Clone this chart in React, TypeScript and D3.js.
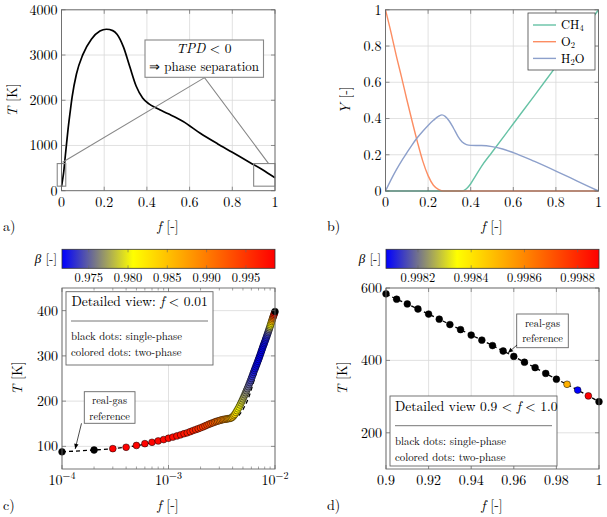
import React from 'react';
import * as d3 from 'd3';

const FONT = "'Latin Modern Roman', 'Liberation Serif', serif";

// a) temperature over mixture fraction
const aF = [0, 0.005, 0.01, 0.016, 0.02, 0.03, 0.04, 0.05, 0.07, 0.1, 0.14, 0.18, 0.21, 0.24, 0.26, 0.29, 0.32, 0.35, 0.38, 0.41, 0.43, 0.46, 0.5, 0.57, 0.65, 0.73, 0.8, 0.88, 0.94, 1.0];
const aT = [88, 240, 398, 684, 870, 1330, 1720, 2080, 2580, 3010, 3350, 3530, 3570, 3540, 3460, 3180, 2740, 2310, 2050, 1920, 1860, 1790, 1700, 1530, 1270, 1040, 850, 630, 470, 285];

// b) mass fractions
const o2F = [0, 0.025, 0.05, 0.075, 0.1, 0.125, 0.15, 0.175, 0.2, 0.225, 0.25, 0.275, 0.3, 1.0];
const o2Y = [1, 0.88, 0.75, 0.63, 0.505, 0.385, 0.27, 0.165, 0.085, 0.032, 0.008, 0.0, 0, 0];
const h2oF = [0, 0.025, 0.05, 0.075, 0.1, 0.125, 0.15, 0.175, 0.2, 0.225, 0.25, 0.265, 0.28, 0.3, 0.32, 0.34, 0.36, 0.38, 0.4, 0.45, 0.5, 0.55, 0.6, 0.7, 0.8, 0.9, 1.0];
const h2oY = [0, 0.06, 0.115, 0.165, 0.21, 0.255, 0.295, 0.33, 0.362, 0.39, 0.413, 0.42, 0.412, 0.385, 0.345, 0.302, 0.27, 0.256, 0.252, 0.251, 0.245, 0.232, 0.212, 0.163, 0.11, 0.055, 0];
const ch4F = [0, 0.36, 0.38, 0.4, 0.42, 0.45, 0.5, 0.6, 0.7, 0.8, 0.9, 1.0];
const ch4Y = [0, 0, 0.012, 0.04, 0.078, 0.135, 0.214, 0.371, 0.528, 0.686, 0.843, 1.0];
const species = ['CH4', 'O2', 'H2O'];
const speciesColors = ['#66c2a5', '#fc8d62', '#8da0cb'];

// c) detailed view f < 0.01, sample grid f = k * 1e-4
const cK = d3.range(1, 101);
const cT = [
  88, 92, 95, 98, 102, 106, 109, 112, 115, 118,
  120.5, 123, 125.5, 128, 130, 132.5, 135, 137, 139, 141,
  143, 145, 147, 149, 150.5, 152, 153.5, 155, 156, 157,
  158, 159, 159.5, 160, 160.5, 161, 161.5, 162, 163, 165,
  168, 171, 175, 179, 183, 187, 191.5, 196, 200.5, 205,
  209.5, 214, 218.5, 223, 227.5, 232, 236.5, 241, 245.5, 250,
  254.5, 259, 263.5, 268, 272, 276, 280, 284, 288, 292,
  296, 300, 304, 308, 312, 316, 320, 323.5, 327, 330.5,
  334, 337.5, 341, 344.5, 348, 351.5, 355, 358.5, 362, 365.5,
  369, 372.5, 376, 379.5, 383, 386, 389, 392, 395, 398,
];
const cBeta: (number | null)[] = [
  null, null, 0.9986, 0.9986, 0.9985, 0.9985, 0.9984, 0.9983, 0.9982, 0.9981,
  0.9979, 0.9977, 0.9975, 0.9972, 0.9969, 0.9966, 0.9963, 0.996, 0.9956, 0.9952,
  0.9948, 0.9944, 0.994, 0.9935, 0.993, 0.9925, 0.992, 0.9914, 0.9908, 0.9902,
  0.9898, 0.9894, 0.989, 0.9886, 0.9881, 0.9876, 0.987, 0.9864, 0.9857, 0.985,
  0.9842, 0.9834, 0.9826, 0.9818, 0.981, 0.9803, 0.9797, 0.9791, 0.9786, 0.9781,
  0.9776, 0.9771, 0.9767, 0.9763, 0.9759, 0.9755, 0.9751, 0.9747, 0.9743, 0.9739,
  0.9735, 0.9731, 0.9728, 0.9725, 0.9723, 0.9721, 0.972, 0.9719, 0.9718, 0.9718,
  0.9717, 0.9717, 0.9717, 0.9717, 0.9717, 0.9718, 0.9718, 0.9719, 0.972, 0.9721,
  0.9723, 0.9725, 0.9728, 0.9732, 0.9737, 0.9743, 0.975, 0.976, 0.9772, 0.9786,
  0.9802, 0.982, 0.984, 0.9862, 0.9886, 0.991, 0.9935, 0.9958, 0.9978, null,
];
const cRefK = [1, 2, 3, 5, 7, 10, 15, 20, 25, 30, 35, 40, 45, 47, 50, 52, 55, 58, 62, 67, 71, 75, 80, 86, 90, 95, 100];
const cRefT = [88, 92, 95, 101.5, 108.5, 117.5, 130, 141, 150, 156, 159.5, 161.5, 166, 172, 181, 189, 201, 215, 237, 263, 281, 299, 320, 345, 362, 381, 398];
const cBetaDomain = [0.9716, 0.9987];
const cBetaTicks = [0.975, 0.98, 0.985, 0.99, 0.995];

// d) detailed view 0.9 < f < 1.0
const dF = [0.9, 0.905, 0.91, 0.915, 0.92, 0.925, 0.93, 0.935, 0.94, 0.945, 0.95, 0.955, 0.96, 0.965, 0.97, 0.975, 0.98, 0.985, 0.99, 0.995, 1.0];
const dT = [584, 569, 556, 542, 528, 514, 499, 485, 470, 456, 441, 426, 411, 395, 380, 364, 348, 334, 318, 302, 286];
const dBeta: (number | null)[] = [null, null, null, null, null, null, null, null, null, null, null, null, null, null, null, null, null, 0.99851, 0.99808, 0.99888, null];
const dBetaDomain = [0.99808, 0.99888];
const dBetaTicks = [0.9982, 0.9984, 0.9986, 0.9988];

const CMAP = ['#0000ff', '#ffff00', '#ff8000', '#ff0000'];
const FRAME = '#666';
const GRID = '#d9d9d9';

const betaScale = (dom: number[]) =>
  d3.scaleLinear<string>()
    .domain([0, 1 / 3, 2 / 3, 1].map((t) => dom[0] + t * (dom[1] - dom[0])))
    .range(CMAP)
    .interpolate(d3.interpolateRgb)
    .clamp(true);

// every text gets the font directly
const Tx = (props: any) => <text fontFamily={FONT} {...props} />;

function Grid({ x, y, xTicks, yTicks }: any) {
  const [x0, x1] = x.range();
  const [y0, y1] = y.range();
  return (
    <g>
      {xTicks.map((t: number) => (
        <line key={'gx' + t} x1={x(t)} x2={x(t)} y1={y0} y2={y1} stroke={GRID} strokeWidth={0.8} />
      ))}
      {yTicks.map((t: number) => (
        <line key={'gy' + t} x1={x0} x2={x1} y1={y(t)} y2={y(t)} stroke={GRID} strokeWidth={0.8} />
      ))}
    </g>
  );
}

function Frame({ x, y, xTicks, yTicks, xMinor = [], fmtX, fmtY }: any) {
  const [x0, x1] = x.range();
  const [y0, y1] = y.range();
  return (
    <g>
      {xTicks.map((t: number) => (
        <g key={'tx' + t}>
          <line x1={x(t)} x2={x(t)} y1={y0} y2={y0 - 4} stroke={FRAME} strokeWidth={0.7} />
          <line x1={x(t)} x2={x(t)} y1={y1} y2={y1 + 4} stroke={FRAME} strokeWidth={0.7} />
          <Tx x={x(t)} y={y0 + 16} textAnchor="middle" fontSize={14}>{fmtX(t)}</Tx>
        </g>
      ))}
      {xMinor.map((t: number) => (
        <g key={'mx' + t}>
          <line x1={x(t)} x2={x(t)} y1={y0} y2={y0 - 2.5} stroke={FRAME} strokeWidth={0.6} />
          <line x1={x(t)} x2={x(t)} y1={y1} y2={y1 + 2.5} stroke={FRAME} strokeWidth={0.6} />
        </g>
      ))}
      {yTicks.map((t: number) => (
        <g key={'ty' + t}>
          <line x1={x0} x2={x0 + 4} y1={y(t)} y2={y(t)} stroke={FRAME} strokeWidth={0.7} />
          <line x1={x1} x2={x1 - 4} y1={y(t)} y2={y(t)} stroke={FRAME} strokeWidth={0.7} />
          <Tx x={x0 - 4} y={y(t)} dy="0.35em" textAnchor="end" fontSize={14}>{fmtY(t)}</Tx>
        </g>
      ))}
      <rect x={x0} y={y1} width={x1 - x0} height={y0 - y1} fill="none" stroke={FRAME} strokeWidth={0.9} />
    </g>
  );
}

function Colorbar({ x0, x1, y0, y1, dom, ticks, fmt, id, labelX }: any) {
  const s = d3.scaleLinear().domain(dom).range([x0, x1]);
  return (
    <g>
      <defs>
        <linearGradient id={id} x1="0" x2="1" y1="0" y2="0">
          {CMAP.map((c, i) => <stop key={i} offset={`${(i / 3) * 100}%`} stopColor={c} />)}
        </linearGradient>
      </defs>
      <rect x={x0} y={y0} width={x1 - x0} height={y1 - y0} fill={`url(#${id})`} />
      {ticks.map((t: number) => (
        <g key={t}>
          <line x1={s(t)} x2={s(t)} y1={y0} y2={y0 + 3} stroke={FRAME} strokeWidth={0.6} />
          <line x1={s(t)} x2={s(t)} y1={y1} y2={y1 - 3} stroke={FRAME} strokeWidth={0.6} />
          <Tx x={s(t)} y={y1 + 14} textAnchor="middle" fontSize={12.5}>{fmt(t)}</Tx>
        </g>
      ))}
      <rect x={x0} y={y0} width={x1 - x0} height={y1 - y0} fill="none" stroke="#333" strokeWidth={0.8} />
      <Tx x={labelX} y={(y0 + y1) / 2} dy="0.35em" textAnchor="end" fontSize={13}>
        <tspan fontStyle="italic">β</tspan> [-]
      </Tx>
    </g>
  );
}

function Arrow({ x1, y1, x2, y2 }: any) {
  const a = Math.atan2(y2 - y1, x2 - x1);
  const L = 5, W = 2.2;
  const p = [
    [x2, y2],
    [x2 - L * Math.cos(a) + W * Math.sin(a), y2 - L * Math.sin(a) - W * Math.cos(a)],
    [x2 - L * Math.cos(a) - W * Math.sin(a), y2 - L * Math.sin(a) + W * Math.cos(a)],
  ];
  return (
    <g>
      <line x1={x1} y1={y1} x2={x2} y2={y2} stroke="#000" strokeWidth={0.7} />
      <polygon points={p.map((q) => q.join(',')).join(' ')} fill="#000" />
    </g>
  );
}

function RefBox({ x, y, w, h }: any) {
  return (
    <g>
      <rect x={x} y={y} width={w} height={h} fill="white" stroke={FRAME} strokeWidth={0.9} />
      <Tx x={x + w / 2} y={y + 12.5} textAnchor="middle" fontSize={10.5}>real-gas</Tx>
      <Tx x={x + w / 2} y={y + 28} textAnchor="middle" fontSize={10.5}>reference</Tx>
    </g>
  );
}

export default function App() {
  // a)
  const xa = d3.scaleLinear().domain([0, 1]).range([61.5, 275]);
  const ya = d3.scaleLinear().domain([0, 4000]).range([190.7, 9.8]);
  const lineA = d3.line<number>().x((_, i) => xa(aF[i])).y((d) => ya(d)).curve(d3.curveMonotoneX);

  // b)
  const xb = d3.scaleLinear().domain([0, 1]).range([385.5, 598.5]);
  const yb = d3.scaleLinear().domain([0, 1]).range([191, 9.8]);
  const lineB = (fs: number[], ys: number[]) =>
    d3.line<number>().x((_, i) => xb(fs[i])).y((d) => yb(d)).curve(d3.curveMonotoneX)(ys) as string;
  const bSeries = [
    { f: ch4F, y: ch4Y },
    { f: o2F, y: o2Y },
    { f: h2oF, y: h2oY },
  ];

  // c)
  const xc = d3.scaleLog().domain([1e-4, 1e-2]).range([62, 275]);
  const yc = d3.scaleLinear().domain([50, 450]).range([469, 288]);
  const colC = betaScale(cBetaDomain);
  const refLineC = d3.line<number>().x((_, i) => xc(cRefK[i] * 1e-4)).y((d) => yc(d)).curve(d3.curveMonotoneX);
  const minorC = [2, 3, 4, 5, 6, 7, 8, 9].flatMap((m) => [m * 1e-4, m * 1e-3]);

  // d)
  const xd = d3.scaleLinear().domain([0.9, 1]).range([386, 599]);
  const yd = d3.scaleLinear().domain([100, 600]).range([469, 288]);
  const colD = betaScale(dBetaDomain);
  const refLineD = d3.line<number>().x((_, i) => xd(dF[i])).y((d) => yd(d));

  const fmtNum = (t: number) => (t === 0 || t === 1 ? String(t) : String(+t.toFixed(2)));

  return (
    <svg width={607} height={517} style={{ position: 'absolute', left: 0, top: 0 }}>
      <rect width={607} height={517} fill="white" />

      {/* ---------- a) ---------- */}
      <Grid x={xa} y={ya} xTicks={[0, 0.2, 0.4, 0.6, 0.8, 1]} yTicks={[0, 1000, 2000, 3000, 4000]} />
      <path d={lineA(aT) as string} fill="none" stroke="#000" strokeWidth={1.7} />
      <rect x={xa(-0.02)} y={ya(600)} width={xa(0.02) - xa(-0.02)} height={ya(100) - ya(600)} fill="none" stroke="#888" strokeWidth={1.1} />
      <rect x={xa(0.9)} y={ya(600)} width={xa(1) - xa(0.9)} height={ya(100) - ya(600)} fill="none" stroke="#888" strokeWidth={1.1} />
      <polyline
        points={[[0.005, 630], [0.67, 2500], [0.97, 600]].map((p) => `${xa(p[0])},${ya(p[1])}`).join(' ')}
        fill="none" stroke="#888" strokeWidth={1.1}
      />
      <Frame x={xa} y={ya} xTicks={[0, 0.2, 0.4, 0.6, 0.8, 1]} yTicks={[0, 1000, 2000, 3000, 4000]} fmtX={fmtNum} fmtY={(t: number) => String(t)} />
      <rect x={145} y={40} width={118.5} height={37.3} fill="white" stroke="#888" strokeWidth={1.1} />
      <Tx x={204} y={53} textAnchor="middle" fontSize={13.5}>
        <tspan fontStyle="italic">TPD</tspan> &lt; 0
      </Tx>
      <Tx x={204} y={71} textAnchor="middle" fontSize={13}>⇒ phase separation</Tx>
      <Tx x={168} y={231} textAnchor="middle" fontSize={14}><tspan fontStyle="italic">f</tspan> [-]</Tx>
      <Tx transform="translate(17,100) rotate(-90)" textAnchor="middle" fontSize={14}><tspan fontStyle="italic">T</tspan> [K]</Tx>
      <Tx x={3} y={231} fontSize={14}>a)</Tx>

      {/* ---------- b) ---------- */}
      <Grid x={xb} y={yb} xTicks={[0, 0.2, 0.4, 0.6, 0.8, 1]} yTicks={[0, 0.2, 0.4, 0.6, 0.8, 1]} />
      {bSeries.map((s, i) => (
        <path key={i} d={lineB(s.f, s.y)} fill="none" stroke={speciesColors[i]} strokeWidth={1.4} />
      ))}
      <Frame x={xb} y={yb} xTicks={[0, 0.2, 0.4, 0.6, 0.8, 1]} yTicks={[0, 0.2, 0.4, 0.6, 0.8, 1]} fmtX={fmtNum} fmtY={fmtNum} />
      <g>
        <rect x={528} y={13} width={67} height={57} fill="white" stroke="#444" strokeWidth={0.8} />
        {species.map((s, i) => (
          <g key={s}>
            <line x1={533} x2={556} y1={25 + i * 16.7} y2={25 + i * 16.7} stroke={speciesColors[i]} strokeWidth={1.4} />
            <Tx x={561} y={25 + i * 16.7} dy="0.33em" fontSize={12.5}>
              {s === 'CH4' && <>CH<tspan fontSize={8.5} dy={2}>4</tspan></>}
              {s === 'O2' && <>O<tspan fontSize={8.5} dy={2}>2</tspan></>}
              {s === 'H2O' && <>H<tspan fontSize={8.5} dy={2}>2</tspan><tspan dy={-2}>O</tspan></>}
            </Tx>
          </g>
        ))}
      </g>
      <Tx x={492} y={231} textAnchor="middle" fontSize={14}><tspan fontStyle="italic">f</tspan> [-]</Tx>
      <Tx transform="translate(350,100) rotate(-90)" textAnchor="middle" fontSize={14}><tspan fontStyle="italic">Y</tspan> [-]</Tx>
      <Tx x={327} y={231} fontSize={14}>b)</Tx>

      {/* ---------- c) ---------- */}
      <Colorbar x0={62} x1={275} y0={249.3} y1={268.3} dom={cBetaDomain} ticks={cBetaTicks} fmt={(t: number) => t.toFixed(3)} id="cbC" labelX={57} />
      <Grid x={xc} y={yc} xTicks={[1e-4, 1e-3, 1e-2]} yTicks={[100, 200, 300, 400]} />
      <path d={refLineC(cRefT) as string} fill="none" stroke="#000" strokeWidth={1.3} strokeDasharray="4 3" />
      {cK.map((k, i) => (
        <circle key={k} cx={xc(k * 1e-4)} cy={yc(cT[i])} r={3.4}
          fill={cBeta[i] === null ? '#000' : colC(cBeta[i] as number)} stroke="#000" strokeWidth={0.5} />
      ))}
      <Frame x={xc} y={yc} xTicks={[1e-4, 1e-3, 1e-2]} xMinor={minorC} yTicks={[100, 200, 300, 400]}
        fmtX={(t: number) => <>10<tspan fontSize={10} dy={-6}>{'−' + Math.round(-Math.log10(t))}</tspan></>}
        fmtY={(t: number) => String(t)} />
      <g>
        <rect x={66} y={291.7} width={147} height={73.3} fill="white" stroke={FRAME} strokeWidth={0.9} />
        <Tx x={71.5} y={306} fontSize={13.5}>Detailed view: <tspan fontStyle="italic">f</tspan> &lt; 0.01</Tx>
        <line x1={71} x2={208} y1={321} y2={321} stroke="#777" strokeWidth={1} />
        <Tx x={71} y={339.5} fontSize={10.8}>black dots: single-phase</Tx>
        <Tx x={71} y={356} fontSize={10.8}>colored dots: two-phase</Tx>
      </g>
      <RefBox x={84.3} y={391.7} w={50.7} h={31.6} />
      <Arrow x1={81.5} y1={423.3} x2={xc(1.33e-4)} y2={yc(90) - 2} />
      <Tx x={168} y={510} textAnchor="middle" fontSize={14}><tspan fontStyle="italic">f</tspan> [-]</Tx>
      <Tx transform="translate(22,378) rotate(-90)" textAnchor="middle" fontSize={14}><tspan fontStyle="italic">T</tspan> [K]</Tx>
      <Tx x={3} y={510} fontSize={14}>c)</Tx>

      {/* ---------- d) ---------- */}
      <Colorbar x0={386} x1={599} y0={249.3} y1={268.3} dom={dBetaDomain} ticks={dBetaTicks} fmt={(t: number) => t.toFixed(4)} id="cbD" labelX={381} />
      <Grid x={xd} y={yd} xTicks={[0.9, 0.92, 0.94, 0.96, 0.98, 1]} yTicks={[200, 400, 600]} />
      <path d={refLineD(dT) as string} fill="none" stroke="#000" strokeWidth={1.3} strokeDasharray="4 3" />
      {dF.map((f, i) => (
        <circle key={f} cx={xd(f)} cy={yd(dT[i])} r={3.4}
          fill={dBeta[i] === null ? '#000' : colD(dBeta[i] as number)} stroke="#000" strokeWidth={0.5} />
      ))}
      <Frame x={xd} y={yd} xTicks={[0.9, 0.92, 0.94, 0.96, 0.98, 1]} yTicks={[200, 400, 600]} fmtX={fmtNum} fmtY={(t: number) => String(t)} />
      <RefBox x={516.7} y={314} w={51.6} h={33.7} />
      <Arrow x1={517} y1={345} x2={xd(0.9573)} y2={yd(421)} />
      <g>
        <rect x={390} y={396} width={167} height={70} fill="white" stroke={FRAME} strokeWidth={0.9} />
        <Tx x={395} y={411} fontSize={13.5}>Detailed view 0.9 &lt; <tspan fontStyle="italic">f</tspan> &lt; 1.0</Tx>
        <line x1={395} x2={552} y1={425.7} y2={425.7} stroke="#777" strokeWidth={1} />
        <Tx x={395} y={444.5} fontSize={10.8}>black dots: single-phase</Tx>
        <Tx x={395} y={460.5} fontSize={10.8}>colored dots: two-phase</Tx>
      </g>
      <Tx x={492} y={510} textAnchor="middle" fontSize={14}><tspan fontStyle="italic">f</tspan> [-]</Tx>
      <Tx transform="translate(347,378) rotate(-90)" textAnchor="middle" fontSize={14}><tspan fontStyle="italic">T</tspan> [K]</Tx>
      <Tx x={327} y={510} fontSize={14}>d)</Tx>
    </svg>
  );
}
